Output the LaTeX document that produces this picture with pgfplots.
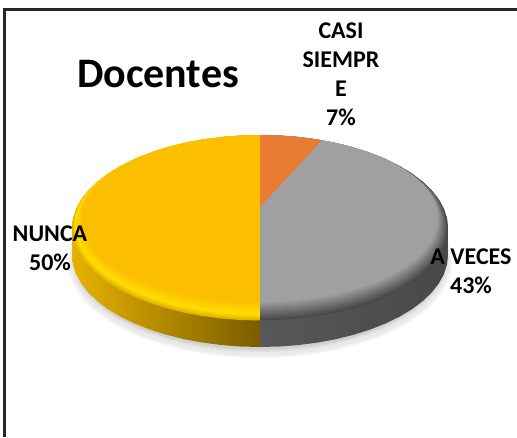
\documentclass[border=0pt]{standalone}
\usepackage{pgfplots}
\usepackage{pgfplotstable}
\usepackage{fontspec}
\pgfplotsset{compat=1.18}
\setmainfont{Carlito}
\pgfplotstableread{
s c
0 1
.1045 .9945
.2079 .9781
.3090 .9511
.4067 .9135
.5 .8660
.5878 .8090
.6691 .7431
.7431 .6691
.8090 .5878
.8660 .5
.9135 .4067
.9511 .3090
.9781 .2079
.9945 .1045
1 0
.9945 -.1045
.9781 -.2079
.9511 -.3090
.9135 -.4067
.8660 -.5
.8090 -.5878
.7431 -.6691
.6691 -.7431
.5878 -.8090
.5 -.8660
.4067 -.9135
.3090 -.9511
.2079 -.9781
.1045 -.9945
0 -1
}\halfrim
\definecolor{Yout}{HTML}{E2B400}
\definecolor{Ymid}{HTML}{FFDC00}
\definecolor{Yflat}{HTML}{FCBF00}
\definecolor{Gout}{HTML}{484848}
\definecolor{Gflat}{HTML}{A0A0A0}
\definecolor{Orange}{HTML}{E97B32}
\newcommand\halo[4]{%
  \addplot[fill=#4,draw=none,fill opacity=.35,forget plot] table[x expr=260-#1*\thisrow{s},y expr=#2-#3*\thisrow{c}] \halfrim;
  \addplot[fill=#4,draw=none,fill opacity=.35,forget plot] table[x expr=260+#1*\thisrow{s},y expr=#2-#3*\thisrow{c}] \halfrim;
}
\newcommand\side[1]{%
  \addplot[draw=none,left color=YsideL,right color=YsideR,forget plot] table[x expr=260-188*\thisrow{s},y expr=#1-92*\thisrow{c}] \halfrim;
  \addplot[draw=none,left color=GsideL,middle color=GsideM,right color=GsideR,forget plot] table[x expr=260+188*\thisrow{s},y expr=#1-92*\thisrow{c}] \halfrim;
}
\definecolor{YsideL}{HTML}{E6B200}
\definecolor{YsideR}{HTML}{7A5C00}
\definecolor{GsideL}{HTML}{585858}
\definecolor{GsideM}{HTML}{3A3A3A}
\definecolor{GsideR}{HTML}{484848}
\newcommand\bevel[3]{%
  \addplot[fill=#2,draw=none,forget plot] table[x expr=260-(188-10*#1)*\thisrow{s},y expr=228-9.5*#1-(92.5-9*#1)*\thisrow{c}] \halfrim;
  \addplot[fill=#3,draw=none,forget plot] table[x expr=260+(188-10*#1)*\thisrow{s},y expr=228-9.5*#1-(92.5-9*#1)*\thisrow{c}] \halfrim;
}
\begin{document}
\begin{tikzpicture}
\useasboundingbox (0,0) rectangle (517pt,437pt);
\begin{axis}[at={(0,0)},anchor=south west,
  axis lines=none, scale only axis, width=517pt, height=437pt,
  xmin=0, xmax=517, ymin=0, ymax=437, y dir=reverse, clip=true]
\addplot[draw=black!85,line width=2.2pt,forget plot] coordinates {(4.5,437)(4.5,9.5)(517,9.5)};
\halo{192}{262}{96}{gray!25}
\halo{190}{261}{95}{gray!30}
\halo{188}{259}{93}{gray!40}
\halo{186}{258}{92}{gray!55}
\side{255}\side{252}\side{249}\side{246}\side{243}\side{240}\side{237}\side{234}\side{231}\side{228}
\bevel{0}{Yout}{Gout}
\bevel{.06}{Ymid!20!Yout}{Gout!94!Gflat}
\bevel{.12}{Ymid!40!Yout}{Gout!88!Gflat}
\bevel{.18}{Ymid!60!Yout}{Gout!82!Gflat}
\bevel{.24}{Ymid!80!Yout}{Gout!76!Gflat}
\bevel{.30}{Ymid}{Gout!70!Gflat}
\bevel{.36}{Ymid}{Gout!64!Gflat}
\bevel{.42}{Ymid!90!Yflat}{Gout!58!Gflat}
\bevel{.48}{Ymid!80!Yflat}{Gout!52!Gflat}
\bevel{.54}{Ymid!70!Yflat}{Gout!46!Gflat}
\bevel{.60}{Ymid!60!Yflat}{Gout!40!Gflat}
\bevel{.66}{Ymid!50!Yflat}{Gout!34!Gflat}
\bevel{.72}{Ymid!40!Yflat}{Gout!28!Gflat}
\bevel{.78}{Ymid!30!Yflat}{Gout!22!Gflat}
\bevel{.84}{Ymid!20!Yflat}{Gout!16!Gflat}
\bevel{.90}{Ymid!10!Yflat}{Gout!10!Gflat}
\bevel{.95}{Ymid!5!Yflat}{Gout!5!Gflat}
\bevel{1}{Yflat}{Gflat}
\addplot[fill=Orange,draw=none,forget plot] coordinates {(260,207)(260,135)(272.4,135.2)(284.8,135.8)(297,136.8)(309.1,138.2)(322,140.2)} --cycle;
\node[font=\bfseries\fontsize{42}{42}\selectfont,anchor=center] at (axis cs:158,74) {Docentes};
\node[font=\bfseries\fontsize{24}{29}\selectfont,align=center,anchor=center] at (axis cs:341,74.5) {CASI\\SIEMPR\\E\\7\%};
\node[font=\bfseries\fontsize{24}{29}\selectfont,align=center,anchor=center] at (axis cs:50,248) {NUNCA\\50\%};
\node[font=\bfseries\fontsize{24}{29}\selectfont,align=center,anchor=center] at (axis cs:471,271.5) {A VECES\\43\%};
\end{axis}
\end{tikzpicture}
\end{document}
